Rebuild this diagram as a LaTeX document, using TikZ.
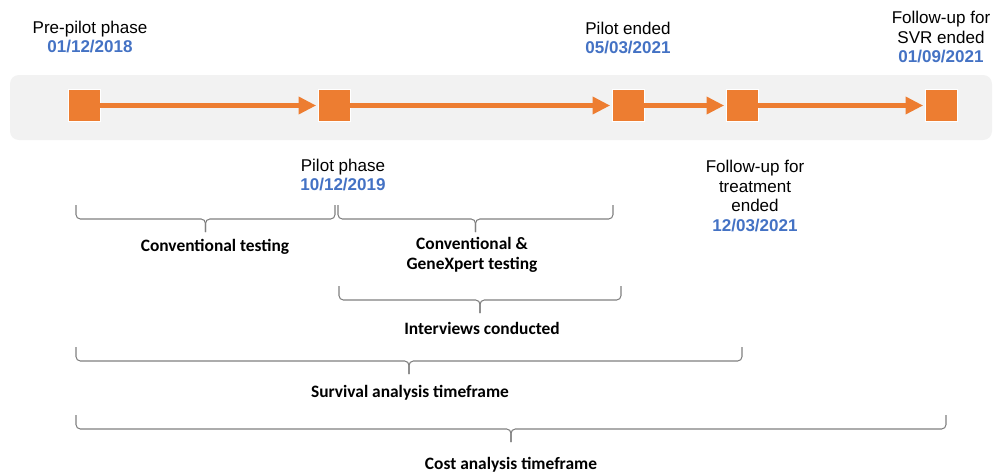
\documentclass[tikz,border=0pt]{standalone}
\usepackage{fontspec}
\setmainfont{Liberation Sans}
\newfontfamily\calib{Carlito}
\usetikzlibrary{calc,shapes,arrows.meta}

\definecolor{milestone}{HTML}{ED7D31}
\definecolor{datecol}{HTML}{4472C4}
\definecolor{bandgray}{HTML}{F2F2F2}
\definecolor{bracegray}{HTML}{808080}

\tikzset{
  msbox/.style = {fill = milestone, draw = white, line width = .3pt, minimum size = 18pt, inner sep = 0pt},
  msarrow/.style = {draw = milestone, line width = 2.8pt, -{Triangle[length=10pt, width=9.5pt]}, shorten >= 1pt},
  evlabel/.style = {align = center, font = \fontsize{9.7}{11.3}\selectfont, inner sep = 0pt},
  phaselabel/.style = {align = center, font = \calib\bfseries\fontsize{9.9}{11.6}\selectfont, inner sep = 0pt},
  bracepath/.style = {draw = bracegray, line width = .6pt, rounded corners = 2.5pt}
}
\newcommand{\dt}[1]{{\color{datecol}\bfseries #1}}
\newcommand{\phasebrace}[3]{%
  \draw [bracepath] (#1,#3) -- (#1,#3+14) -- ({(#1+#2)/2},#3+14) -- ({(#1+#2)/2},#3+27);
  \draw [bracepath] (#2,#3) -- (#2,#3+14) -- ({(#1+#2)/2},#3+14) -- ({(#1+#2)/2},#3+27);
}

\begin{document}
\begin{tikzpicture}[x = 0.02cm, y = -0.02cm]
    \useasboundingbox (0,0) rectangle (995,474);
    \fill [bandgray, rounded corners = 5pt] (10,75) rectangle (992,140);

    \node [msbox] (m1) at (84,105.5) {};
    \node [msbox] (m2) at (334,105.5) {};
    \node [msbox] (m3) at (628,105.5) {};
    \node [msbox] (m4) at (742,105.5) {};
    \node [msbox] (m5) at (941,105.5) {};

    \draw [msarrow] (m1) -- (m2);
    \draw [msarrow] (m2) -- (m3);
    \draw [msarrow] (m3) -- (m4);
    \draw [msarrow] (m4) -- (m5);

    \node [evlabel] (prepilot) at (90,37) {Pre-pilot phase\\\dt{01/12/2018}};
    \node [evlabel] (pilotend) at (628,38) {Pilot ended\\\dt{05/03/2021}};
    \node [evlabel] (svrend) at (941,37) {Follow-up for\\SVR ended\\\dt{01/09/2021}};
    \node [evlabel] (pilot) at (343,175) {Pilot phase\\\dt{10/12/2019}};
    \node [evlabel] (treatend) at (755,196) {Follow-up for\\treatment\\ended\\\dt{12/03/2021}};

    \phasebrace{76}{335}{205}
    \phasebrace{338}{613}{205}
    \phasebrace{339}{621}{286}
    \phasebrace{76}{742}{347}
    \phasebrace{76}{946}{415}

    \node [phaselabel] (conv) at (215,247) {Conventional testing};
    \node [phaselabel] (gxp) at (472,255) {Conventional \&\\GeneXpert testing};
    \node [phaselabel] (intv) at (482,328) {Interviews conducted};
    \node [phaselabel] (surv) at (410,393) {Survival analysis timeframe};
    \node [phaselabel] (cost) at (511,465) {Cost analysis timeframe};
\end{tikzpicture}
\end{document}
